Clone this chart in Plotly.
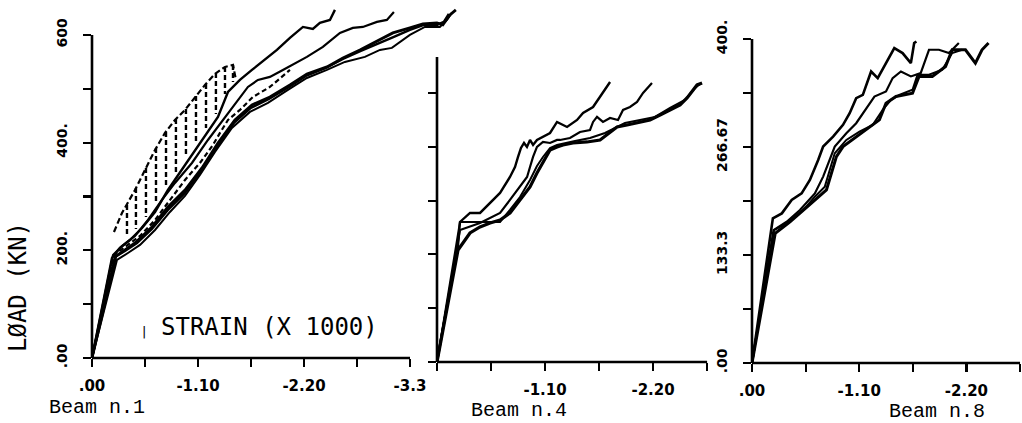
import plotly.graph_objects as go

W, H = 1022, 423

# ---------------- Beam n.1 (strain x1000, load kN) ----------------
b1_top_x = [0, -0.207, -0.290, -0.394, -0.519, -0.654, -0.788, -0.965, -1.141, -1.307, -1.411, -1.535,
            -1.660, -1.795, -1.919, -2.054, -2.189, -2.292, -2.365, -2.469, -2.521]
b1_top_y = [0, 185.8, 204.4, 219.2, 241.5, 271.3, 312.1, 358.6, 405.0, 447.8, 494.2, 516.5,
            535.1, 553.7, 572.3, 594.6, 615.0, 611.3, 622.4, 628.0, 646.6]

b1_second_x = [0, -0.218, -0.311, -0.446, -0.581, -0.726, -0.861, -1.037, -1.203, -1.380, -1.515, -1.618,
               -1.722, -1.846, -1.981, -2.230, -2.396, -2.573, -2.707, -2.811, -2.957, -3.060, -3.133]
b1_second_y = [0, 191.4, 208.1, 226.7, 256.4, 293.6, 325.2, 362.3, 405.0, 447.8, 479.4, 503.5,
               516.5, 522.1, 535.1, 559.3, 577.8, 603.9, 613.1, 615.0, 624.3, 628.0, 642.9]

b1_dashed_x = [0, -0.228, -0.342, -0.498, -0.654, -0.809, -0.965, -1.120, -1.255, -1.328, -1.411, -1.535,
               -1.670, -1.846, -1.950, -2.054]
b1_dashed_y = [0, 191.4, 206.2, 226.7, 256.4, 293.6, 330.7, 362.3, 395.8, 418.1, 442.2, 460.8,
               484.9, 503.5, 520.2, 535.1]

b1_a_x = [0, -0.249, -0.342, -0.446, -0.622, -0.788, -0.965, -1.141, -1.307, -1.483, -1.660, -1.846,
          -2.054, -2.230, -2.438, -2.604, -2.780, -2.957, -3.122, -3.299, -3.434, -3.579, -3.641, -3.714, -3.776]
b1_a_y = [0, 189.5, 200.7, 213.7, 243.4, 280.6, 312.1, 353.0, 399.5, 442.2, 470.1, 484.9,
          507.2, 527.7, 540.7, 557.4, 572.3, 589.0, 603.9, 613.1, 620.6, 622.4, 618.7, 637.3, 646.6]

b1_b_x = [0, -0.259, -0.373, -0.498, -0.654, -0.809, -0.965, -1.120, -1.276, -1.452, -1.639, -1.826,
          -2.033, -2.230, -2.438, -2.624, -2.832, -2.988, -3.112, -3.299, -3.454, -3.610, -3.683, -3.734]
b1_b_y = [0, 182.1, 195.1, 210.0, 237.8, 271.3, 301.0, 340.0, 382.7, 427.3, 457.1, 473.8,
          497.9, 520.2, 535.1, 550.0, 559.3, 572.3, 576.0, 600.1, 615.0, 615.0, 628.0, 641.0]

b1_c_x = [0, -0.239, -0.342, -0.467, -0.622, -0.788, -0.965, -1.131, -1.297, -1.473, -1.649, -1.836,
          -2.044, -2.220, -2.427, -2.604, -2.790, -2.967, -3.133, -3.299, -3.444, -3.579, -3.651, -3.703]
b1_c_y = [0, 187.7, 198.8, 213.7, 239.7, 275.0, 306.6, 347.4, 392.0, 436.6, 464.5, 481.2,
          503.5, 524.0, 538.8, 555.5, 570.4, 583.4, 596.4, 609.4, 618.7, 618.7, 624.3, 639.2]

# dashed upper envelope of the hatched zone
b1_env_x = [-0.228, -0.311, -0.446, -0.550, -0.654, -0.757, -0.861, -0.965, -1.068, -1.172, -1.276,
            -1.380, -1.463, -1.494]
b1_env_y = [234.1, 269.4, 312.1, 349.3, 386.5, 418.1, 442.2, 460.8, 484.9, 507.2, 527.7,
            540.7, 544.4, 516.5]

# vertical hatch strokes
hatch_x = [-0.363, -0.456, -0.560, -0.664, -0.768, -0.871, -0.975, -1.079, -1.183, -1.286, -1.380, -1.463]
hatch_top = [284.3, 315.9, 353.0, 390.2, 419.9, 444.1, 462.6, 486.8, 509.1, 529.5, 540.7, 544.4]
hatch_bot = [226.7, 239.7, 262.0, 286.1, 317.7, 345.6, 373.5, 399.5, 427.3, 453.4, 490.5, 512.8]

# ---------------- Beam n.4 ----------------
b4_p_x = [0, -0.214, -0.234, -0.336, -0.438, -0.540, -0.642, -0.743, -0.794, -0.825, -0.855, -0.886,
          -0.916, -0.947, -0.978, -1.018, -1.079, -1.151, -1.222, -1.283, -1.324, -1.426, -1.487,
          -1.589, -1.660, -1.711, -1.762]
b4_p_y = [0, 217.5, 260.3, 277.0, 277.0, 295.6, 314.2, 343.9, 362.5, 381.1, 397.8, 407.1,
          399.7, 412.7, 403.4, 412.7, 418.3, 425.7, 446.2, 440.6, 436.9, 449.9, 462.9,
          474.0, 492.6, 505.6, 520.5]

b4_q_x = [0, -0.234, -0.438, -0.642, -0.743, -0.845, -0.917, -0.947, -0.978, -1.018, -1.079, -1.151,
          -1.222, -1.253, -1.354, -1.456, -1.558, -1.589, -1.629, -1.690, -1.762, -1.843, -1.894,
          -1.965, -2.037, -2.098, -2.149, -2.189]
b4_q_y = [0, 245.4, 258.4, 277.0, 301.2, 325.3, 343.9, 362.5, 381.1, 399.7, 409.0, 407.1,
          412.7, 412.7, 416.4, 427.6, 431.3, 446.2, 455.5, 446.2, 453.6, 449.9, 468.5,
          474.0, 483.3, 500.1, 511.2, 518.7]

b4_r_x = [0, -0.214, -0.336, -0.438, -0.540, -0.642, -0.743, -0.845, -0.947, -1.018, -1.079, -1.120,
          -1.151, -1.222, -1.283, -1.385, -1.527, -1.660, -1.731, -1.833, -1.935, -2.067, -2.169,
          -2.271, -2.373, -2.475, -2.546, -2.607, -2.648, -2.699]
b4_r_y = [0, 208.2, 239.8, 251.0, 258.4, 264.0, 277.0, 301.2, 325.3, 351.4, 371.8, 384.8,
          394.1, 399.7, 403.4, 407.1, 409.0, 412.7, 422.0, 436.9, 440.6, 446.2, 449.9,
          459.2, 468.5, 477.8, 490.8, 505.6, 515.0, 518.7]

b4_s_x = [0, -0.234, -0.438, -0.642, -0.743, -0.845, -0.947, -1.018, -1.079, -1.151, -1.222, -1.303,
          -1.405, -1.558, -1.711, -1.813, -1.914, -2.067, -2.220, -2.373, -2.525, -2.627, -2.678]
b4_s_y = [0, 260.3, 260.3, 260.3, 282.6, 306.7, 338.3, 364.4, 381.1, 397.8, 403.4, 407.1,
          410.8, 416.4, 425.7, 435.0, 444.3, 449.9, 455.5, 472.2, 487.1, 509.4, 516.8]

# ---------------- Beam n.8 ----------------
b8_a_x = [0, -0.214, -0.306, -0.407, -0.509, -0.594, -0.679, -0.730, -0.832, -0.934, -1.002, -1.069,
          -1.137, -1.222, -1.290, -1.375, -1.460, -1.545, -1.630, -1.664, -1.687]
b8_a_y = [0, 178.5, 184.7, 201.2, 209.4, 225.9, 250.7, 267.2, 279.5, 294.0, 308.4, 326.9,
          331.1, 359.9, 351.7, 370.2, 388.8, 382.6, 370.2, 395.0, 397.0]

b8_b_x = [0, -0.221, -0.356, -0.492, -0.645, -0.730, -0.849, -0.968, -1.069, -1.205, -1.256, -1.375,
          -1.443, -1.528, -1.630, -1.731, -1.816, -1.918, -2.020, -2.122]
b8_b_y = [0, 164.1, 174.4, 188.8, 209.4, 230.1, 267.2, 283.7, 296.0, 320.8, 329.0, 335.2,
          351.7, 359.9, 353.8, 357.9, 386.7, 386.7, 382.6, 395.0]

b8_c_x = [0, -0.238, -0.390, -0.560, -0.645, -0.764, -0.866, -0.934, -1.069, -1.171, -1.307, -1.375,
          -1.477, -1.647, -1.714, -1.850, -1.986, -2.054, -2.190, -2.292, -2.360, -2.427]
b8_c_y = [0, 160.0, 174.4, 193.0, 201.2, 213.6, 254.8, 267.2, 279.5, 287.8, 300.2, 320.8,
          329.0, 333.1, 353.8, 353.8, 366.1, 386.7, 386.7, 370.2, 386.7, 395.0]

b8_d_x = [0, -0.227, -0.363, -0.526, -0.645, -0.747, -0.849, -0.968, -1.103, -1.239, -1.341, -1.426,
          -1.511, -1.647, -1.698, -1.816, -1.952, -2.054, -2.156]
b8_d_y = [0, 164.1, 173.2, 188.8, 205.3, 217.7, 258.9, 275.4, 285.7, 294.0, 312.5, 324.9,
          331.1, 337.3, 355.8, 355.8, 362.0, 382.6, 386.7]

# ---------------- axes ----------------
b1_xticks = [0, -0.55, -1.10, -1.65, -2.20, -2.75, -3.30]
b1_xtext = [".00", "", "-1.10", "", "-2.20", "", "-3.3"]
b1_yticks = [0, 100, 200, 300, 400, 500, 600]
b1_ytext = [".00", "", "200.", "", "400.", "", "600"]
b4_xticks = [0, -0.55, -1.10, -1.65, -2.20, -2.75]
b4_xtext = ["", "", "-1.10", "", "-2.20", ""]
b4_yticks = [0, 100, 200, 300, 400, 500]
b8_xticks = [0, -0.55, -1.10, -1.65, -2.20, -2.75]
b8_xtext = [".00", "", "-1.10", "", "-2.20", ""]
b8_yticks = [0, 66.67, 133.33, 200, 266.67, 333.33, 400]
b8_ytext = [".00", "", "133.3", "", "266.67", "", "400."]

# axis line extents (x end, y end)
b1_axis_end = (-3.30, 600)
b4_axis_end = (-2.75, 567)
b8_axis_end = (-2.75, 400)


def px_x(p):
    return p / W


def px_y(p):
    return 1 - p / H


# subplot frames: (x domain, x range, y domain, y range)
frames = {
    "1": ([px_x(92), px_x(463)], [0, -3.85], [px_y(358), px_y(2.7)], [0, 660]),
    "2": ([px_x(437), px_x(712)], [0, -2.8], [px_y(362), px_y(39.2)], [0, 600]),
    "3": ([px_x(752), px_x(1021)], [0, -2.76], [px_y(363), px_y(22.8)], [0, 420]),
}

fig = go.Figure()


def add_line(x, y, xa, ya, width=2.4, dash="solid"):
    fig.add_trace(go.Scatter(x=x, y=y, mode="lines", xaxis=xa, yaxis=ya,
                             line=dict(color="black", width=width, dash=dash),
                             hoverinfo="skip", showlegend=False))


# Beam 1
add_line(b1_top_x, b1_top_y, "x", "y", 2.4)
add_line(b1_second_x, b1_second_y, "x", "y", 2.2)
add_line(b1_dashed_x, b1_dashed_y, "x", "y", 2.2, "5px,3px")
add_line(b1_a_x, b1_a_y, "x", "y", 2.8)
add_line(b1_b_x, b1_b_y, "x", "y", 2.0)
add_line(b1_c_x, b1_c_y, "x", "y", 2.4)
add_line(b1_env_x, b1_env_y, "x", "y", 2.2, "6px,3px")
hx, hy = [], []
for xv, t, b in zip(hatch_x, hatch_top, hatch_bot):
    hx += [xv, xv, None]
    hy += [t, b, None]
add_line(hx, hy, "x", "y", 2.4, "5px,3px")

# Beam 4
add_line(b4_p_x, b4_p_y, "x2", "y2", 2.4)
add_line(b4_q_x, b4_q_y, "x2", "y2", 2.2)
add_line(b4_r_x, b4_r_y, "x2", "y2", 3.2)
add_line(b4_s_x, b4_s_y, "x2", "y2", 2.0)

# Beam 8
add_line(b8_a_x, b8_a_y, "x3", "y3", 2.6)
add_line(b8_b_x, b8_b_y, "x3", "y3", 2.2)
add_line(b8_c_x, b8_c_y, "x3", "y3", 3.0)
add_line(b8_d_x, b8_d_y, "x3", "y3", 2.0)

tickfont = dict(family="DejaVu Sans", size=15, color="black", weight="bold")

common_x = dict(showgrid=False, zeroline=False, showline=False, ticks="outside", ticklen=8,
                tickwidth=2.2, tickcolor="black", tickfont=tickfont, tickmode="array",
                ticklabelstandoff=6, fixedrange=True, automargin=False)
common_y = dict(showgrid=False, zeroline=False, showline=False, ticks="outside", ticklen=8,
                tickwidth=2.2, tickcolor="black", tickfont=dict(tickfont, size=14), tickmode="array",
                tickangle=-90, ticklabelstandoff=10, fixedrange=True, automargin=False)

fig.update_layout(
    template="none",
    width=W, height=H, autosize=False,
    margin=dict(l=0, r=0, t=0, b=0, pad=0),
    paper_bgcolor="white", plot_bgcolor="rgba(0,0,0,0)",
    showlegend=False,
    xaxis=dict(common_x, domain=frames["1"][0], range=frames["1"][1], anchor="y",
               tickvals=b1_xticks, ticktext=b1_xtext),
    yaxis=dict(common_y, domain=frames["1"][2], range=frames["1"][3], anchor="x",
               tickvals=b1_yticks, ticktext=b1_ytext),
    xaxis2=dict(common_x, domain=frames["2"][0], range=frames["2"][1], anchor="y2",
                tickvals=b4_xticks, ticktext=b4_xtext),
    yaxis2=dict(common_y, domain=frames["2"][2], range=frames["2"][3], anchor="x2",
                tickvals=b4_yticks, ticktext=[""] * len(b4_yticks)),
    xaxis3=dict(common_x, domain=frames["3"][0], range=frames["3"][1], anchor="y3",
                tickvals=b8_xticks, ticktext=b8_xtext),
    yaxis3=dict(common_y, domain=frames["3"][2], range=frames["3"][3], anchor="x3",
                tickvals=b8_yticks, ticktext=b8_ytext),
)


def to_paper(dom, rng, v):
    return dom[0] + (v - rng[0]) / (rng[1] - rng[0]) * (dom[1] - dom[0])


shapes = []
for key, (xe, ye) in [("1", b1_axis_end), ("2", b4_axis_end), ("3", b8_axis_end)]:
    xd, xr, yd, yr = frames[key]
    x0p = to_paper(xd, xr, 0)
    x1p = to_paper(xd, xr, xe)
    y0p = to_paper(yd, yr, 0)
    y1p = to_paper(yd, yr, ye)
    shapes.append(dict(type="line", xref="paper", yref="paper", x0=x0p, x1=x0p, y0=y0p, y1=y1p,
                       line=dict(color="black", width=2.6)))
    shapes.append(dict(type="line", xref="paper", yref="paper", x0=x0p, x1=x1p, y0=y0p, y1=y0p,
                       line=dict(color="black", width=2.6)))
fig.update_layout(shapes=shapes)

mono = "DejaVu Sans Mono"
courier = "Liberation Mono"
annotations = [
    dict(text="LØAD (KN)", x=px_x(18), y=px_y(287), textangle=-90,
         font=dict(family=mono, size=24, color="black")),
    dict(text="STRAIN (X 1000)", x=px_x(269), y=px_y(327),
         font=dict(family=mono, size=24, color="black")),
    dict(text="|", x=px_x(144), y=px_y(331), font=dict(family="DejaVu Sans", size=13, color="black")),
    dict(text="Beam n.1", x=px_x(97), y=px_y(407), font=dict(family=courier, size=20, color="black")),
    dict(text="Beam n.4", x=px_x(519), y=px_y(410), font=dict(family=courier, size=20, color="black")),
    dict(text="Beam n.8", x=px_x(937), y=px_y(411), font=dict(family=courier, size=20, color="black")),
]
for a in annotations:
    a.update(xref="paper", yref="paper", showarrow=False, xanchor="center", yanchor="middle")
fig.update_layout(annotations=annotations)

fig.write_html("out.html", config={"displayModeBar": False, "staticPlot": True},
               post_script="document.body.style.margin='0px';")
